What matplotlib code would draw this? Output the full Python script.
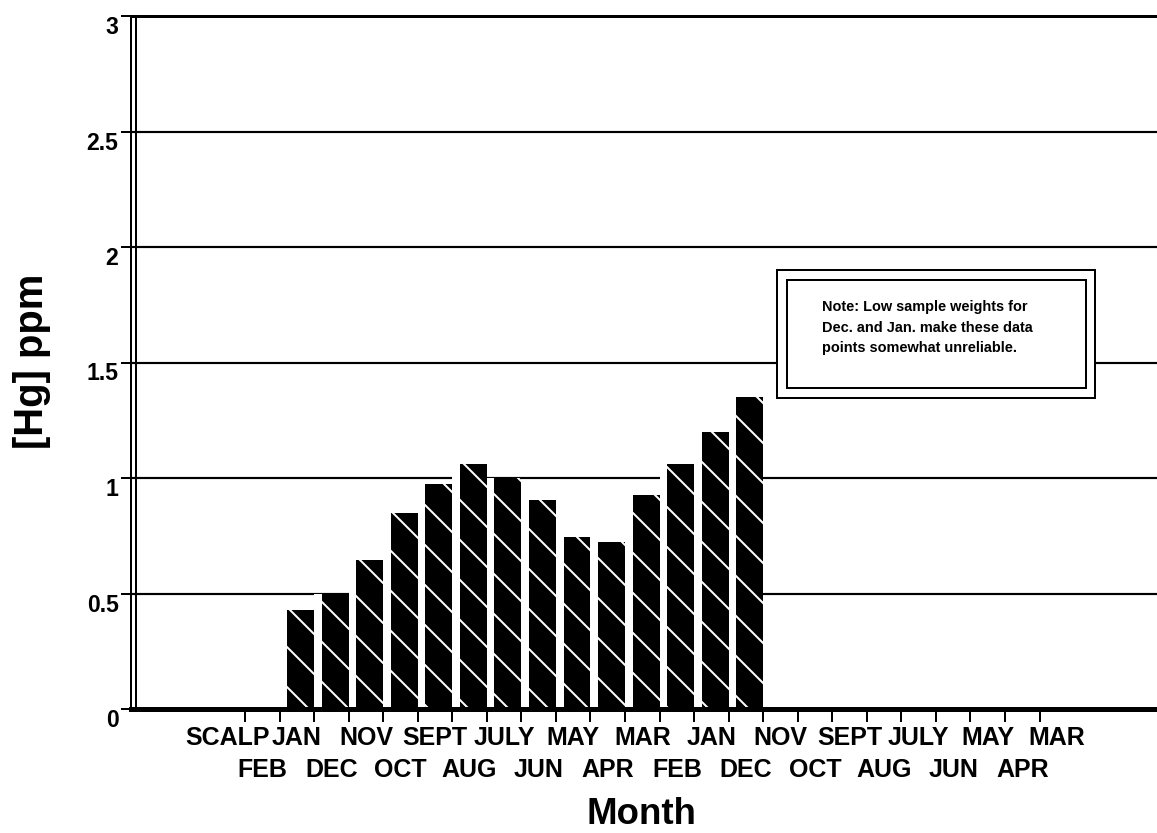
import numpy as np
import matplotlib
matplotlib.use("Agg")
import matplotlib.pyplot as plt
from matplotlib.patches import Rectangle

# ---- data ----
categories = ["SCALP", "FEB", "JAN", "DEC", "NOV", "OCT", "SEPT", "AUG", "JULY",
              "JUN", "MAY", "APR", "MAR", "FEB", "JAN", "DEC", "NOV", "OCT",
              "SEPT", "AUG", "JULY", "JUN", "MAY", "APR", "MAR"]
hg_ppm = [0, 0, 0.43, 0.50, 0.645, 0.85, 0.975, 1.06, 1.00, 0.905, 0.745, 0.725,
          0.925, 1.06, 1.20, 1.35, 0, 0, 0, 0, 0, 0, 0, 0, 0]
y_ticks = [0, 0.5, 1, 1.5, 2, 2.5, 3]
y_tick_labels = ["0", "0.5", "1", "1.5", "2", "2.5", "3"]
note_text = ("Note: Low sample weights for\n"
             "Dec. and Jan. make these data\n"
             "points somewhat unreliable.")

plt.rcParams["font.family"] = ["Liberation Sans", "DejaVu Sans"]
plt.rcParams["font.weight"] = "bold"
plt.rcParams["hatch.linewidth"] = 1.2

DPI = 120
W, H = 1157, 833
fig = plt.figure(figsize=(W / DPI, H / DPI), dpi=DPI)
ax_l, ax_r, ax_t, ax_b = 131, 1157, 16, 709
ax = fig.add_axes([ax_l / W, (H - ax_b) / H, (ax_r - ax_l) / W, (ax_b - ax_t) / H])

x = np.arange(len(categories))
# white backing so gridlines break between bars
ax.bar(x, hg_ppm, width=1.0, color="white", linewidth=0, zorder=1.5)
ax.bar(x + 0.11, hg_ppm, width=0.78, facecolor="black", edgecolor="white",
       linewidth=0, hatch="\\", zorder=2)

ax.set_xlim(-2.8, 26.9)
ax.set_ylim(0, 3)

ax.set_yticks(y_ticks)
ax.set_yticklabels(y_tick_labels)
ax.yaxis.grid(True, color="black", linewidth=1.3)
ax.xaxis.grid(False)
ax.set_axisbelow(True)

# top row of category labels (even positions)
ax.set_xticks(x[0::2])
ax.set_xticklabels(categories[0::2])
ax.set_xticks(x[:-1] + 0.5, minor=True)
ax.tick_params(axis="x", which="major", length=0, pad=10, labelsize=15)
ax.tick_params(axis="x", which="minor", length=7.8, width=1.2, direction="out")

# bottom row of category labels (odd positions)
sec = ax.secondary_xaxis("bottom")
sec.set_xticks(x[1::2])
sec.set_xticklabels(categories[1::2])
sec.tick_params(axis="x", which="both", length=0, pad=29.5, labelsize=15)
sec.spines["bottom"].set_visible(False)

ax.tick_params(axis="y", length=6, width=1.2, pad=1.5, labelsize=13.8)
for lbl in ax.get_yticklabels():
    lbl.set_va("top")

ax.spines["right"].set_visible(False)
ax.spines["top"].set_linewidth(1.8)
ax.spines["bottom"].set_linewidth(3.0)
ax.spines["left"].set_linewidth(1.2)
off = 5 / (ax_r - ax_l)
ax.plot([off, off], [0, 1], transform=ax.transAxes, color="black", lw=1.2,
        clip_on=False, zorder=3)

# note box
ax.add_patch(Rectangle((0.6296, 0.4488), 0.3100, 0.1847, transform=ax.transAxes,
                       facecolor="white", edgecolor="black", lw=1.2, zorder=5))
ax.add_patch(Rectangle((0.6394, 0.4632), 0.2914, 0.1558, transform=ax.transAxes,
                       facecolor="white", edgecolor="black", lw=1.2, zorder=5))
ax.text(0.6735, 0.5902, note_text, transform=ax.transAxes, fontsize=8.7,
        va="top", ha="left", linespacing=1.6, zorder=6)

fig.text(641 / W, 1 - 815 / H, "Month", fontsize=22, ha="center", va="center")
fig.text(32 / W, 1 - 361 / H, "[Hg] ppm", fontsize=24, rotation=90,
         ha="center", va="center")

fig.savefig("out.png", dpi=DPI)
